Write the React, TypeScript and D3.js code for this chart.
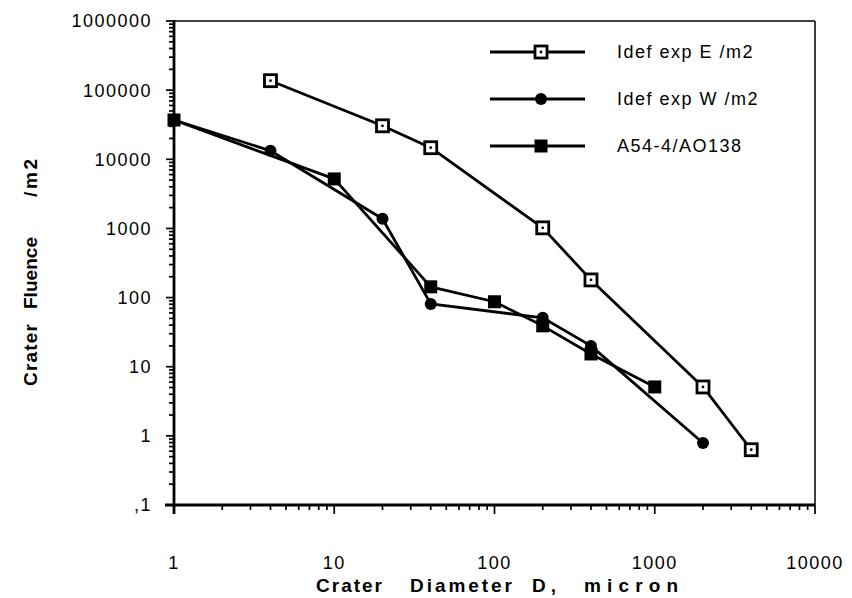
import * as d3 from "d3";

// crater diameter (micron) and fluence (/m2)
const eDiam = [4, 20, 40, 200, 400, 2000, 4000];
const eFlu = [137000, 30500, 14700, 1020, 180, 5.1, 0.63];
const wDiam = [1, 4, 20, 40, 200, 400, 2000];
const wFlu = [37000, 13300, 1380, 81, 51, 20, 0.79];
const aDiam = [1, 10, 40, 100, 200, 400, 1000];
const aFlu = [37000, 5200, 143, 87, 39, 15.3, 5.1];

const xTickVals = [1, 10, 100, 1000, 10000];
const xTickLabels = ["1", "10", "100", "1000", "10000"];
const yTickVals = [1e6, 1e5, 1e4, 1000, 100, 10, 1, 0.1];
const yTickLabels = ["1000000", "100000", "10000", "1000", "100", "10", "1", ",1"];

const seriesNames = ["Idef exp E /m2", "Idef exp W /m2", "A54-4/AO138"];

// axis title words with their start offset and spread width
const xTitleWords = ["Crater", "Diameter", "D,", "micron"];
const xTitleStarts = [316, 410, 532, 584];
const xTitleWidths = [66, 102, 24, 94];
const yTitleWords = ["Crater", "Fluence", "/m2"];
const yTitleStarts = [386, 309, 197];
const yTitleWidths = [62, 72, 38];

const W = 852;
const H = 598;
const left = 174;
const right = 815;
const top = 21;
const bottom = 505;

const font = "'Liberation Sans', Arial, Helvetica, sans-serif";

function Marker({ kind, x, y }: { kind: string; x: number; y: number }) {
  if (kind === "open")
    return (
      <g>
        <rect x={x - 6} y={y - 6} width={12} height={12} fill="#fff" stroke="#000" strokeWidth={2.8} />
        <circle cx={x} cy={y} r={1.4} fill="#000" />
      </g>
    );
  if (kind === "circle") return <circle cx={x} cy={y} r={6} fill="#000" />;
  return <rect x={x - 6.5} y={y - 6.5} width={13} height={13} fill="#000" />;
}

export default function App() {
  const x = d3.scaleLog().domain([1, 10000]).range([left, right]);
  const y = d3.scaleLog().domain([0.1, 1e6]).range([bottom, top]);

  const series = [
    { name: seriesNames[0], kind: "open", xs: eDiam, ys: eFlu },
    { name: seriesNames[1], kind: "circle", xs: wDiam, ys: wFlu },
    { name: seriesNames[2], kind: "square", xs: aDiam, ys: aFlu },
  ];

  const line = d3
    .line<[number, number]>()
    .x((d) => x(d[0]))
    .y((d) => y(d[1]));

  const isMajor = (v: number) => Math.abs(Math.log10(v) - Math.round(Math.log10(v))) < 1e-9;

  return (
    <svg width={W} height={H} style={{ display: "block", position: "absolute", left: 0, top: 0 }}>
      <rect width={W} height={H} fill="#fff" />
      {/* frame */}
      <line x1={left} x2={right} y1={top} y2={top} stroke="#000" strokeWidth={1.5} />
      <line x1={right} x2={right} y1={top} y2={bottom} stroke="#000" strokeWidth={1.5} />
      <line x1={left - 9} x2={right} y1={bottom} y2={bottom} stroke="#000" strokeWidth={2.8} />
      <line x1={left} x2={left} y1={top - 1} y2={bottom + 9} stroke="#000" strokeWidth={2.8} />

      {/* y ticks */}
      {y.ticks().map((v, i) => (
        <line
          key={"yt" + i}
          x1={left}
          x2={left - (isMajor(v) ? 8 : 5)}
          y1={y(v)}
          y2={y(v)}
          stroke="#000"
          strokeWidth={1.7}
        />
      ))}
      {/* x ticks */}
      {x.ticks().map((v, i) => (
        <line
          key={"xt" + i}
          x1={x(v)}
          x2={x(v)}
          y1={bottom}
          y2={bottom + (isMajor(v) ? 9 : 5)}
          stroke="#000"
          strokeWidth={1.7}
        />
      ))}

      {yTickVals.map((v, i) => (
        <text
          key={"yl" + i}
          x={left - 22}
          y={y(v)}
          dy="0.36em"
          textAnchor="end"
          fontFamily={font}
          fontSize={18}
          letterSpacing={1.5}
        >
          {yTickLabels[i]}
        </text>
      ))}
      {xTickVals.map((v, i) => (
        <text
          key={"xl" + i}
          x={x(v)}
          y={569}
          textAnchor="middle"
          fontFamily={font}
          fontSize={18}
          letterSpacing={1.5}
        >
          {xTickLabels[i]}
        </text>
      ))}

      {/* axis titles */}
      {xTitleWords.map((w, i) => (
        <text
          key={"xw" + i}
          x={xTitleStarts[i]}
          y={592}
          fontFamily={font}
          fontSize={19}
          fontWeight="bold"
          textLength={xTitleWidths[i]}
          lengthAdjust="spacing"
        >
          {w}
        </text>
      ))}
      {yTitleWords.map((w, i) => (
        <text
          key={"yw" + i}
          transform={`translate(37,${yTitleStarts[i]}) rotate(-90)`}
          fontFamily={font}
          fontSize={19}
          fontWeight="bold"
          textLength={yTitleWidths[i]}
          lengthAdjust="spacing"
        >
          {w}
        </text>
      ))}

      {/* series */}
      {series.map((s, si) => (
        <path
          key={"p" + si}
          d={line(s.xs.map((d, i) => [d, s.ys[i]] as [number, number])) || ""}
          fill="none"
          stroke="#000"
          strokeWidth={2.8}
          strokeLinejoin="round"
        />
      ))}
      {series.map((s, si) => (
        <g key={"m" + si}>
          {s.xs.map((d, i) => (
            <Marker key={i} kind={s.kind} x={x(d)} y={y(s.ys[i])} />
          ))}
        </g>
      ))}

      {/* legend */}
      {series.map((s, si) => {
        const ly = 52 + si * 47;
        return (
          <g key={"lg" + si}>
            <line x1={490} x2={585} y1={ly} y2={ly} stroke="#000" strokeWidth={2.8} />
            <Marker kind={s.kind} x={541} y={ly} />
            <text x={617} y={ly} dy="0.36em" fontFamily={font} fontSize={18} letterSpacing={1.5}>
              {s.name}
            </text>
          </g>
        );
      })}
    </svg>
  );
}
